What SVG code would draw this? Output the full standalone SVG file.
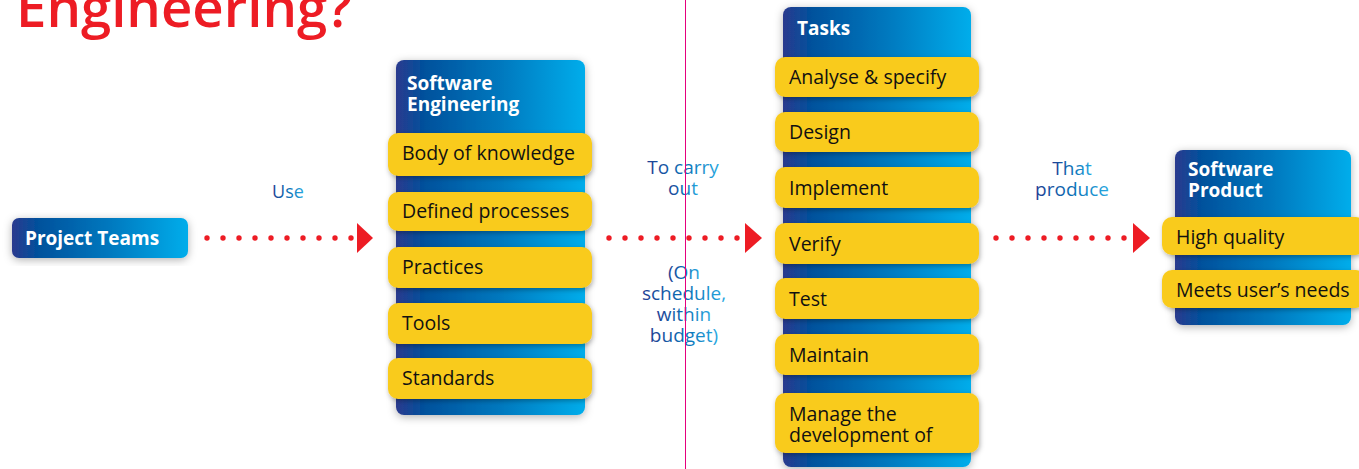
<svg xmlns="http://www.w3.org/2000/svg" width="1359" height="469" viewBox="0 0 1359 469">
<defs>
<linearGradient id="blue" x1="0" y1="0" x2="1" y2="0">
<stop offset="0" stop-color="#2b3a8e"/>
<stop offset="0.15" stop-color="#00519c"/>
<stop offset="0.55" stop-color="#0078be"/>
<stop offset="1" stop-color="#00adeb"/>
</linearGradient>
<linearGradient id="lbl" x1="0" y1="0" x2="1" y2="0">
<stop offset="0" stop-color="#1f3f93"/>
<stop offset="0.5" stop-color="#0a6fb5"/>
<stop offset="1" stop-color="#27a9e1"/>
</linearGradient>
<filter id="sh" x="-20%" y="-20%" width="140%" height="140%">
<feDropShadow dx="0" dy="2" stdDeviation="4" flood-color="#000" flood-opacity="0.3"/>
</filter>
<filter id="sh2" x="-10%" y="-30%" width="120%" height="160%">
<feDropShadow dx="1" dy="2" stdDeviation="2.5" flood-color="#000" flood-opacity="0.3"/>
</filter>
<g id="dots9">
<circle cx="0" cy="0" r="2.7"/><circle cx="16" cy="0" r="2.7"/><circle cx="32" cy="0" r="2.7"/><circle cx="48" cy="0" r="2.7"/><circle cx="64" cy="0" r="2.7"/><circle cx="80" cy="0" r="2.7"/><circle cx="96" cy="0" r="2.7"/><circle cx="112" cy="0" r="2.7"/><circle cx="128" cy="0" r="2.7"/>
</g>
</defs>
<style>
.col{fill:url(#blue);filter:url(#sh)}
.item{fill:#f9cb1f;filter:url(#sh2)}
.head{font-family:"Open Sans","Noto Sans","Liberation Sans",sans-serif;font-weight:700;font-size:19px;fill:#ffffff}
.it{font-family:"Open Sans","Noto Sans","Liberation Sans",sans-serif;font-size:19.5px;fill:#111111}
.lbl{font-family:"Open Sans","Noto Sans","Liberation Sans",sans-serif;font-size:19px;fill:url(#lbl);text-anchor:middle}
.dot{fill:#ed1c24}
</style>
<rect width="1359" height="469" fill="#ffffff"/>
<text x="16" y="27" font-family="Open Sans, Noto Sans, Liberation Sans, sans-serif" font-weight="600" font-size="54" fill="#ed1c24" textLength="336" lengthAdjust="spacingAndGlyphs">Engineering?</text>

<g id="connectors">
<g class="dot">
<use href="#dots9" x="207" y="238"/>
<circle cx="351" cy="238" r="2.7"/>
<polygon points="357,223 373,238 357,253"/>
<use href="#dots9" x="609" y="238"/>
<polygon points="745,223 762,238 745,253"/>
<use href="#dots9" x="996" y="238"/>
<polygon points="1133,223 1150,238 1133,253"/>
</g>
<text class="lbl" x="288" y="198" style="font-size:18px">Use</text>
<text class="lbl" x="683" y="174">To carry</text>
<text class="lbl" x="683" y="195">out</text>
<text class="lbl" x="684" y="279">(On</text>
<text class="lbl" x="684" y="300">schedule,</text>
<text class="lbl" x="684" y="321">within</text>
<text class="lbl" x="684" y="342">budget)</text>
<text class="lbl" x="1072" y="175">That</text>
<text class="lbl" x="1072" y="196">produce</text>
</g>

<g id="project-teams">
<rect class="col" x="12" y="218" width="176" height="40" rx="7"/>
<text class="head" x="25" y="245">Project Teams</text>
</g>

<g id="software-engineering">
<rect class="col" x="396" y="60" width="189" height="355" rx="8"/>
<text class="head" x="407" y="90">Software</text>
<text class="head" x="407" y="111">Engineering</text>
<rect class="item" x="388" y="133" width="204" height="43" rx="10"/>
<text class="it" x="402" y="160">Body of knowledge</text>
<rect class="item" x="388" y="192" width="204" height="39" rx="10"/>
<text class="it" x="402" y="218">Defined processes</text>
<rect class="item" x="388" y="247" width="204" height="41" rx="10"/>
<text class="it" x="402" y="274">Practices</text>
<rect class="item" x="388" y="303" width="204" height="41" rx="10"/>
<text class="it" x="402" y="330">Tools</text>
<rect class="item" x="388" y="358" width="204" height="41" rx="10"/>
<text class="it" x="402" y="385">Standards</text>
</g>

<line x1="685.5" y1="0" x2="685.5" y2="469" stroke="#e5007d" stroke-width="1"/>

<g id="tasks">
<rect class="col" x="783" y="7" width="188" height="460" rx="8"/>
<text class="head" x="797" y="35">Tasks</text>
<rect class="item" x="775" y="57" width="204" height="40" rx="10"/>
<text class="it" x="789" y="84">Analyse &amp; specify</text>
<rect class="item" x="775" y="112" width="204" height="40" rx="10"/>
<text class="it" x="789" y="139">Design</text>
<rect class="item" x="775" y="167" width="204" height="41" rx="10"/>
<text class="it" x="789" y="195">Implement</text>
<rect class="item" x="775" y="223" width="204" height="41" rx="10"/>
<text class="it" x="789" y="251">Verify</text>
<rect class="item" x="775" y="278" width="204" height="41" rx="10"/>
<text class="it" x="789" y="306">Test</text>
<rect class="item" x="775" y="334" width="204" height="41" rx="10"/>
<text class="it" x="789" y="362">Maintain</text>
<rect class="item" x="775" y="393" width="204" height="60" rx="10"/>
<text class="it" x="789" y="421">Manage the</text>
<text class="it" x="789" y="442">development of</text>
</g>

<g id="software-product">
<rect class="col" x="1175" y="150" width="176" height="175" rx="8"/>
<text class="head" x="1188" y="176">Software</text>
<text class="head" x="1188" y="197">Product</text>
<rect class="item" x="1162" y="217" width="204" height="38" rx="10"/>
<text class="it" x="1176" y="244">High quality</text>
<rect class="item" x="1162" y="270" width="204" height="38" rx="10"/>
<text class="it" x="1176" y="297">Meets user’s needs</text>
</g>
</svg>
